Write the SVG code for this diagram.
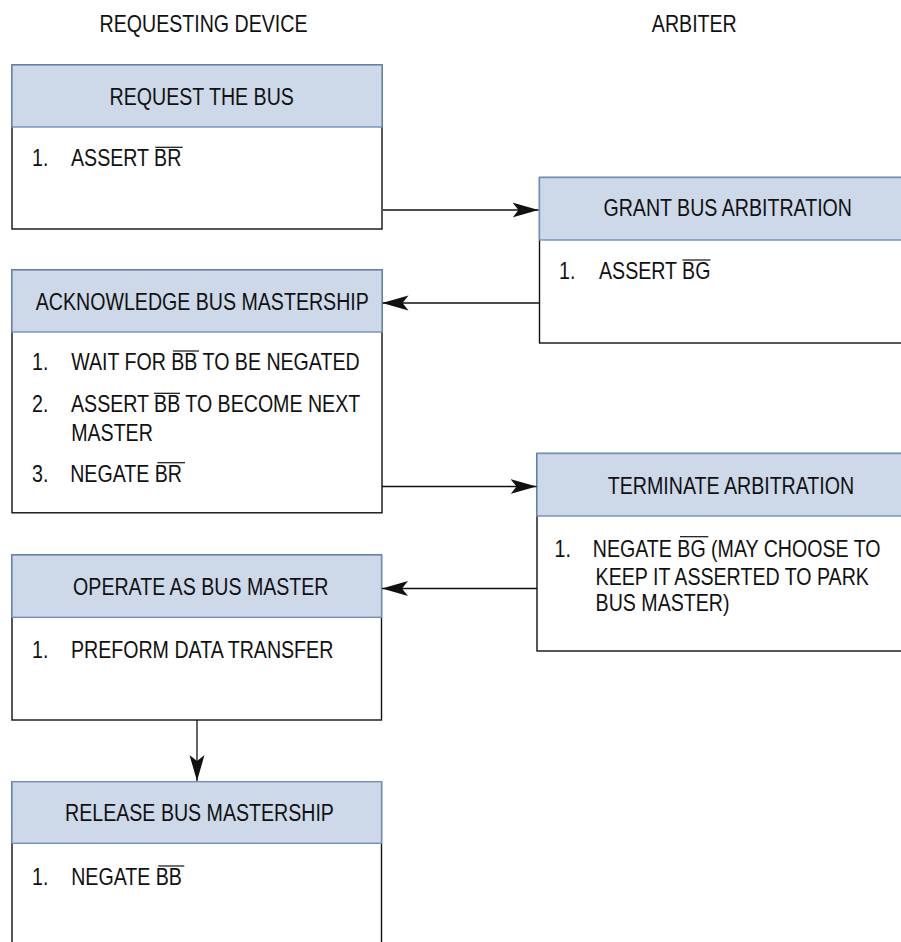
<svg xmlns="http://www.w3.org/2000/svg" width="901" height="942" viewBox="0 0 901 942">
<style>
text{font-family:"Liberation Sans",Arial,sans-serif;font-size:23.5px;fill:#111;}
.c{text-anchor:middle;}
.hd{fill:#CDD8E9;stroke:#6F8FC4;stroke-width:1.4;}
.bd{fill:#fff;stroke:#111;stroke-width:1.4;}
.ol{stroke:#111;stroke-width:1.2;}
.cn{stroke:#111;stroke-width:1.3;fill:none;marker-end:url(#ah);}
</style>
<defs>
<marker id="ah" markerUnits="userSpaceOnUse" viewBox="0 0 26 16" refX="26" refY="8" markerWidth="26" markerHeight="16" orient="auto">
<path d="M0,0.5 L26,8 L0,15.5 L6,8 Z" fill="#111"/>
</marker>
</defs>
<rect width="901" height="942" fill="#fff"/>

<g id="lane-labels">
<text class="c" transform="translate(203.5,31.7) scale(0.834,1)">REQUESTING DEVICE</text>
<text class="c" transform="translate(694.3,32.3) scale(0.834,1)">ARBITER</text>
</g>

<g id="request">
<rect class="bd" x="12" y="65" width="370" height="164"/>
<rect class="hd" x="12" y="65" width="370" height="62"/>
<text class="c" transform="translate(201.7,105) scale(0.834,1)">REQUEST THE BUS</text>
<text transform="translate(32,166) scale(0.834,1)">1.</text>
<text transform="translate(71,166) scale(0.834,1)">ASSERT BR</text>
<line class="ol" x1="155.3" y1="147.3" x2="182.7" y2="147.3"/>
</g>

<g id="grant">
<rect class="bd" x="539.5" y="177.5" width="370" height="165.5"/>
<rect class="hd" x="539.5" y="177.5" width="370" height="62.5"/>
<text class="c" transform="translate(727.7,215.7) scale(0.834,1)">GRANT BUS ARBITRATION</text>
<text transform="translate(559,279) scale(0.834,1)">1.</text>
<text transform="translate(599,279) scale(0.834,1)">ASSERT BG</text>
<line class="ol" x1="682.5" y1="260" x2="710.5" y2="260"/>
</g>

<g id="acknowledge">
<rect class="bd" x="12" y="270" width="370" height="242.8"/>
<rect class="hd" x="12" y="270" width="370" height="62"/>
<text class="c" transform="translate(202.3,310) scale(0.834,1)">ACKNOWLEDGE BUS MASTERSHIP</text>
<text transform="translate(32,370) scale(0.834,1)">1.</text>
<text transform="translate(71.2,370) scale(0.834,1)">WAIT FOR BB TO BE NEGATED</text>
<line class="ol" x1="173" y1="351" x2="199" y2="351"/>
<text transform="translate(32,411.7) scale(0.834,1)">2.</text>
<text transform="translate(71,411.7) scale(0.834,1)">ASSERT BB TO BECOME NEXT</text>
<line class="ol" x1="154" y1="393.3" x2="180" y2="393.3"/>
<text transform="translate(71.2,441) scale(0.834,1)">MASTER</text>
<text transform="translate(32,481.7) scale(0.834,1)">3.</text>
<text transform="translate(70.2,481.7) scale(0.834,1)">NEGATE BR</text>
<line class="ol" x1="157.3" y1="462.7" x2="185" y2="462.7"/>
</g>

<g id="terminate">
<rect class="bd" x="537" y="453.5" width="372" height="197.5"/>
<rect class="hd" x="537" y="453.5" width="372" height="62.5"/>
<text class="c" transform="translate(731,494) scale(0.834,1)">TERMINATE ARBITRATION</text>
<text transform="translate(554.6,557.3) scale(0.834,1)">1.</text>
<text transform="translate(592.8,557.3) scale(0.834,1)">NEGATE BG (MAY CHOOSE TO</text>
<line class="ol" x1="680" y1="536.7" x2="708.3" y2="536.7"/>
<text transform="translate(595.6,585) scale(0.834,1)">KEEP IT ASSERTED TO PARK</text>
<text transform="translate(595.6,610.7) scale(0.834,1)">BUS MASTER)</text>
</g>

<g id="operate">
<rect class="bd" x="12" y="555" width="369.5" height="165"/>
<rect class="hd" x="12" y="555" width="369.5" height="62.3"/>
<text class="c" transform="translate(200.8,595) scale(0.834,1)">OPERATE AS BUS MASTER</text>
<text transform="translate(32,658.3) scale(0.834,1)">1.</text>
<text transform="translate(71,658.3) scale(0.834,1)">PREFORM DATA TRANSFER</text>
</g>

<g id="release">
<rect class="bd" x="12" y="781.7" width="369.5" height="180"/>
<rect class="hd" x="12" y="781.7" width="369.5" height="61.6"/>
<text class="c" transform="translate(199.5,821) scale(0.834,1)">RELEASE BUS MASTERSHIP</text>
<text transform="translate(32,885) scale(0.834,1)">1.</text>
<text transform="translate(71.2,885) scale(0.834,1)">NEGATE BB</text>
<line class="ol" x1="158.3" y1="866" x2="184.3" y2="866"/>
</g>

<g id="connectors">
<path class="cn" d="M383,210 H538.5"/>
<path class="cn" d="M539.5,303 H382.5"/>
<path class="cn" d="M382,486.5 H536.5"/>
<path class="cn" d="M537,588.5 H382"/>
<path class="cn" d="M197,720 V781"/>
</g>
</svg>
